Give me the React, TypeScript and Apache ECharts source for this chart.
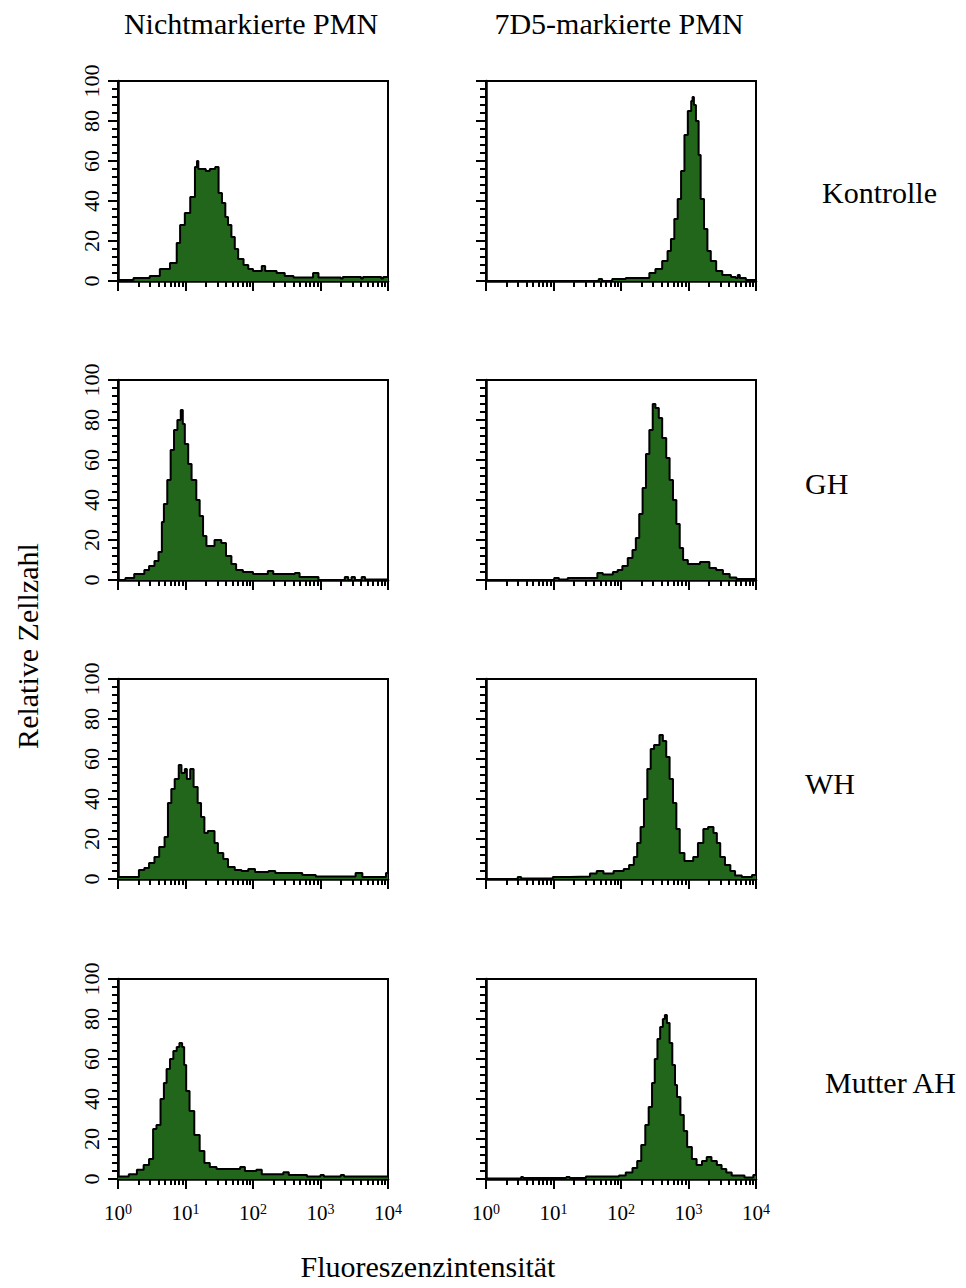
import { useEffect, useRef } from 'react';
import * as echarts from 'echarts';

// ---- DATA (x = log10 fluorescence intensity, start of bin; y = relative cell count) ----
const columnTitles = ['Nichtmarkierte PMN', '7D5-markierte PMN'];
const rowLabels = ['Kontrolle', 'GH', 'WH', 'Mutter AH'];
const decadeExponents = [0, 1, 2, 3, 4];
const countTicks = [0, 20, 40, 60, 80, 100];

const kontrolleUnmarked: [number, number][] = [
  [0, 0.5], [0.23, 1.5], [0.47, 2.5], [0.62, 6], [0.77, 9], [0.87, 19], [0.92, 28], [0.99, 34],
  [1.07, 42], [1.14, 57], [1.17, 60], [1.19, 56], [1.3, 55], [1.36, 56], [1.44, 57], [1.49, 44],
  [1.54, 39], [1.59, 32], [1.63, 28], [1.68, 22], [1.73, 16], [1.78, 11], [1.86, 8], [1.93, 6],
  [2.0, 5], [2.13, 7.5], [2.18, 5], [2.35, 4], [2.47, 2.5], [2.6, 1.7], [2.89, 4], [2.97, 1.7],
  [3.3, 1.2], [3.33, 2], [3.6, 1.2], [3.63, 2], [3.9, 1.2], [3.93, 2],
];
const kontrolle7D5: [number, number][] = [
  [0, 0], [1.67, 1], [1.72, 0], [1.87, 1], [2.07, 1.5], [2.42, 4], [2.51, 6], [2.61, 10],
  [2.69, 15], [2.74, 21], [2.79, 31], [2.84, 41], [2.89, 55], [2.94, 73], [2.99, 85], [3.04, 90],
  [3.06, 92], [3.08, 88], [3.11, 80], [3.15, 63], [3.18, 41], [3.23, 26], [3.28, 15], [3.33, 10],
  [3.41, 5], [3.5, 3], [3.63, 2], [3.7, 1.5], [3.73, 3], [3.76, 1.5], [3.85, 0.5],
];
const ghUnmarked: [number, number][] = [
  [0, 0], [0.11, 1], [0.24, 3], [0.39, 5], [0.46, 7], [0.54, 9.5], [0.6, 14], [0.65, 29],
  [0.68, 38], [0.73, 50], [0.78, 65], [0.83, 75], [0.88, 80], [0.93, 85], [0.96, 78], [0.99, 68],
  [1.04, 58], [1.09, 50], [1.16, 40], [1.21, 32], [1.26, 22], [1.31, 17], [1.43, 20], [1.53, 18.5],
  [1.6, 12], [1.68, 8], [1.75, 5], [1.85, 4], [2.0, 3], [2.22, 4.5], [2.3, 3], [2.62, 3.5],
  [2.69, 1.5], [2.97, 0], [3.36, 1.5], [3.41, 0], [3.46, 1.5], [3.51, 0], [3.61, 1.5], [3.66, 0.3],
];
const gh7D5: [number, number][] = [
  [0, 0], [1.01, 1], [1.08, 0.3], [1.21, 1], [1.65, 3.5], [1.73, 2.7], [1.88, 4], [1.95, 5],
  [2.02, 7], [2.1, 11], [2.17, 15], [2.22, 21], [2.27, 33], [2.32, 46], [2.37, 63], [2.42, 75],
  [2.47, 88], [2.51, 86], [2.56, 81], [2.61, 71], [2.67, 61], [2.72, 50], [2.77, 40], [2.82, 28],
  [2.87, 16], [2.92, 10], [2.99, 8], [3.17, 9], [3.31, 6], [3.41, 5], [3.51, 3], [3.61, 1.3],
  [3.71, 0.5],
];
const whUnmarked: [number, number][] = [
  [0, 1], [0.31, 4.5], [0.39, 5.5], [0.46, 8], [0.54, 11], [0.61, 16], [0.69, 21], [0.74, 38],
  [0.79, 45], [0.84, 50], [0.9, 57], [0.94, 53], [0.99, 55], [1.02, 50], [1.07, 55], [1.12, 46],
  [1.18, 38], [1.23, 31], [1.28, 23], [1.33, 24], [1.43, 18], [1.48, 13], [1.56, 10], [1.63, 6],
  [1.73, 4.5], [1.83, 4], [1.93, 5], [2.03, 3.5], [2.23, 4], [2.33, 3], [2.73, 2], [2.93, 1.3],
  [3.52, 3], [3.62, 1], [3.97, 3],
];
const wh7D5: [number, number][] = [
  [0, 0], [0.47, 1], [0.52, 0.3], [0.99, 1], [1.24, 1.3], [1.54, 2.7], [1.64, 4], [1.74, 2.7],
  [1.89, 4], [2.04, 5], [2.12, 7], [2.19, 11], [2.24, 18], [2.29, 26], [2.34, 40], [2.39, 55],
  [2.44, 65], [2.49, 67], [2.57, 72], [2.62, 69], [2.67, 61], [2.72, 50], [2.77, 38], [2.82, 25],
  [2.87, 13], [2.94, 9], [3.07, 11], [3.14, 18], [3.22, 25], [3.29, 26], [3.37, 23], [3.42, 18],
  [3.47, 11], [3.54, 7], [3.62, 4], [3.69, 1.7], [3.79, 1], [3.94, 2],
];
const mutterUnmarked: [number, number][] = [
  [0, 1.2], [0.16, 2.4], [0.28, 4.6], [0.38, 7], [0.46, 10], [0.52, 25], [0.57, 27], [0.63, 40],
  [0.68, 48], [0.72, 55], [0.77, 60], [0.82, 64], [0.87, 66], [0.91, 68], [0.95, 66], [0.98, 57],
  [1.01, 44], [1.06, 34], [1.13, 22], [1.21, 14], [1.28, 8], [1.36, 6], [1.46, 5], [1.81, 6],
  [1.88, 4], [2.05, 4.6], [2.13, 2.4], [2.45, 3.4], [2.53, 2], [2.8, 1.2], [3.0, 2], [3.05, 1.2],
  [3.3, 2], [3.35, 1.2],
];
const mutter7D5: [number, number][] = [
  [0, 0.3], [0.52, 1], [0.55, 0.5], [1.19, 1], [1.24, 0.5], [1.48, 1.2], [1.97, 1.7], [2.07, 3.3],
  [2.17, 5.5], [2.24, 9], [2.3, 17], [2.36, 27], [2.41, 36], [2.46, 48], [2.5, 60], [2.54, 70],
  [2.58, 76], [2.62, 80], [2.65, 82], [2.68, 78], [2.72, 68], [2.76, 57], [2.8, 47], [2.83, 41],
  [2.88, 32], [2.93, 24], [2.98, 16], [3.05, 10], [3.12, 7], [3.2, 9], [3.27, 11], [3.34, 9],
  [3.42, 7], [3.49, 5], [3.56, 3.3], [3.64, 1.7], [3.83, 0.8], [3.96, 2],
];

const panelRows: [number, number][][][] = [
  [kontrolleUnmarked, kontrolle7D5],
  [ghUnmarked, gh7D5],
  [whUnmarked, wh7D5],
  [mutterUnmarked, mutter7D5],
];

// ---- LAYOUT / STYLE ----
const FONT = '"Liberation Serif", "Times New Roman", serif';
const GREEN = '#22661c';
const colLeft = [118, 486];
const colWidth = 270;
const rowTop = [81, 380, 679, 979];
const rowHeight = 200;
const rowLabelPos = [
  { x: 822, y: 192 },
  { x: 805, y: 483 },
  { x: 805, y: 783 },
  { x: 825, y: 1082 },
];
const titleCenters = [251, 619];

// minor tick positions of a log axis (2..9 in every decade)
const minorDecadeTicks: number[] = [];
for (let d = 0; d < 4; d++) {
  for (let k = 2; k <= 9; k++) minorDecadeTicks.push(d + Math.log10(k));
}

function buildOption() {
  const grid: any[] = [];
  const xAxis: any[] = [];
  const yAxis: any[] = [];
  const series: any[] = [];
  const black = { color: '#000', width: 2 };
  let idx = 0;
  panelRows.forEach((row, r) => {
    row.forEach((hist, c) => {
      grid.push({
        left: colLeft[c],
        top: rowTop[r],
        width: colWidth,
        height: rowHeight,
        show: true,
        borderColor: '#000',
        borderWidth: 2,
        backgroundColor: 'transparent',
      });
      xAxis.push({
        type: 'value',
        gridIndex: idx,
        min: decadeExponents[0],
        max: decadeExponents[decadeExponents.length - 1],
        interval: 1,
        position: 'bottom',
        axisLine: { show: true, lineStyle: { color: '#000', width: 2.5 } },
        axisTick: { show: true, length: 10, lineStyle: black },
        splitLine: { show: false },
        axisLabel: {
          show: r === 3,
          margin: 23,
          color: '#000',
          fontFamily: FONT,
          formatter: (v: number) => `{b|10}{s|${v}}`,
          rich: {
            b: { fontSize: 21, fontFamily: FONT, color: '#000' },
            s: { fontSize: 14, fontFamily: FONT, color: '#000', verticalAlign: 'top', padding: [0, 0, 8, 0] },
          },
        },
      });
      xAxis.push({
        type: 'value',
        gridIndex: idx,
        min: 0,
        max: 4,
        position: 'bottom',
        axisLine: { show: false },
        axisTick: { show: true, length: 6, lineStyle: black, customValues: minorDecadeTicks },
        axisLabel: { show: false },
        splitLine: { show: false },
      });
      yAxis.push({
        type: 'value',
        gridIndex: idx,
        min: countTicks[0],
        max: countTicks[countTicks.length - 1],
        interval: 20,
        axisLine: { show: true, lineStyle: { color: '#000', width: 2.5 } },
        axisTick: { show: true, length: 10, lineStyle: black },
        minorTick: { show: true, splitNumber: 5, length: 6, lineStyle: black },
        splitLine: { show: false },
        minorSplitLine: { show: false },
        axisLabel: {
          show: c === 0,
          rotate: 90,
          margin: 16,
          fontSize: 22,
          color: '#000',
          fontFamily: FONT,
        },
      });
      const data = hist.map((p) => [p[0], p[1]]);
      data.push([4, hist[hist.length - 1][1]]);
      series.push({
        type: 'line',
        xAxisIndex: idx * 2,
        yAxisIndex: idx,
        data,
        step: 'end',
        symbol: 'none',
        silent: true,
        clip: true,
        lineStyle: { color: '#000', width: 2 },
        areaStyle: { color: GREEN, opacity: 1 },
      });
      idx++;
    });
  });

  const textStyle = (extra: any) => ({ fontSize: 30, fontFamily: FONT, fill: '#000', ...extra });
  const graphic: any[] = [];
  columnTitles.forEach((t, i) => {
    graphic.push({
      type: 'text',
      x: titleCenters[i],
      y: 23,
      style: textStyle({ text: t, textAlign: 'center', textVerticalAlign: 'middle' }),
    });
  });
  rowLabels.forEach((t, i) => {
    graphic.push({
      type: 'text',
      x: rowLabelPos[i].x,
      y: rowLabelPos[i].y,
      style: textStyle({ text: t, textAlign: 'left', textVerticalAlign: 'middle' }),
    });
  });
  graphic.push({
    type: 'text',
    x: 27,
    y: 646,
    rotation: Math.PI / 2,
    style: textStyle({ text: 'Relative Zellzahl', textAlign: 'center', textVerticalAlign: 'middle' }),
  });
  graphic.push({
    type: 'text',
    x: 428,
    y: 1266,
    style: textStyle({ text: 'Fluoreszenzintensität', textAlign: 'center', textVerticalAlign: 'middle' }),
  });

  return {
    animation: false,
    backgroundColor: '#fff',
    grid,
    xAxis,
    yAxis,
    series,
    graphic,
  };
}

export default function App() {
  const ref = useRef<HTMLDivElement>(null);
  useEffect(() => {
    if (!ref.current) return;
    const chart = echarts.init(ref.current, null, { renderer: 'svg' });
    chart.setOption(buildOption() as any);
    return () => chart.dispose();
  }, []);
  return (
    <div
      ref={ref}
      style={{ position: 'absolute', left: 0, top: 0, width: 966, height: 1288, background: '#fff' }}
    />
  );
}
